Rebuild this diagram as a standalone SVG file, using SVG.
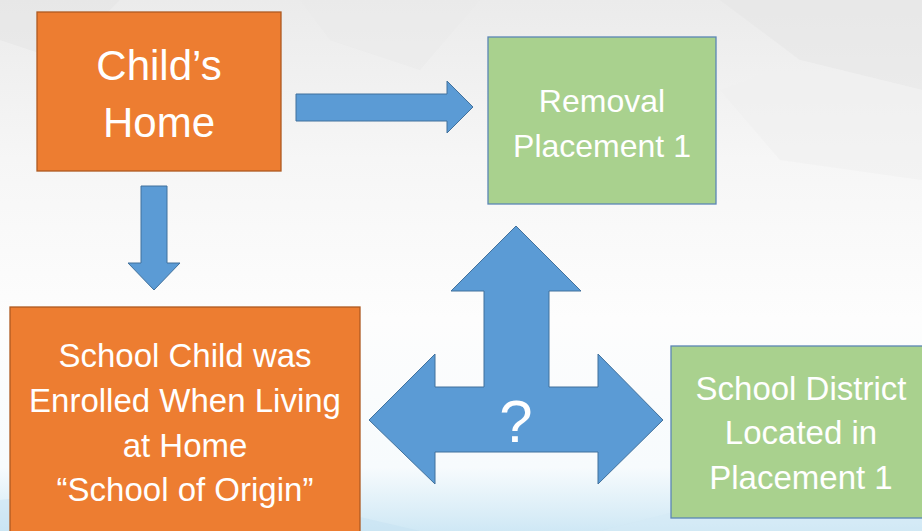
<svg xmlns="http://www.w3.org/2000/svg" width="922" height="531" viewBox="0 0 922 531">
  <defs>
    <linearGradient id="bg" x1="0" y1="0" x2="0" y2="1">
      <stop offset="0" stop-color="#ebebeb"/>
      <stop offset="0.3" stop-color="#f6f6f6"/>
      <stop offset="0.6" stop-color="#fdfdfd"/>
      <stop offset="0.88" stop-color="#f7fbfd"/>
      <stop offset="1" stop-color="#cfe8f5"/>
    </linearGradient>
    <style>
      .orange { fill: #ED7D31; stroke: #AE5A21; stroke-width: 1.3; }
      .green { fill: #A9D18E; stroke: #5B86B5; stroke-width: 1.3; }
      .arrow { fill: #5B9BD5; stroke: #41719C; stroke-width: 1; }
      .lbl { font-family: "Liberation Sans", Arial, sans-serif; fill: #ffffff; text-anchor: middle; }
    </style>
  </defs>
  <rect x="0" y="0" width="922" height="531" fill="url(#bg)"/>
  <g opacity="0.5">
    <polygon points="0,0 120,0 60,60 0,40" fill="#e4e4e4"/>
    <polygon points="300,0 480,0 420,70 330,40" fill="#e9e9e9"/>
    <polygon points="720,0 922,0 922,90 800,60" fill="#e6e6e6"/>
    <polygon points="720,90 800,60 922,90 922,180 780,160" fill="#f0f0f0"/>
    <polygon points="0,500 200,480 420,531 0,531" fill="#c6e2f2"/>
    <polygon points="600,531 760,490 922,510 922,531" fill="#d3eaf6"/>
  </g>

  <g id="connectors">
    <polygon id="arrow-right" class="arrow" points="296,94 447,94 447,81 473,107 447,133 447,121 296,121"/>
    <polygon id="arrow-down" class="arrow" points="141,186 167,186 167,263 180,263 154,290 128,263 141,263"/>
    <polygon id="arrow-triple" class="arrow" points="516,226 581,291 549,291 549,387 598,387 598,354 663,420 598,484 598,452 435,452 435,484 369,420 435,354 435,387 484,387 484,291 451,291"/>
  </g>

  <g id="node-childs-home">
    <rect class="orange" x="37" y="12" width="244" height="159"/>
    <text class="lbl" x="159" y="80" font-size="42">Child’s</text>
    <text class="lbl" x="159" y="137" font-size="42">Home</text>
  </g>

  <g id="node-removal">
    <rect class="green" x="488" y="37" width="228" height="167"/>
    <text class="lbl" x="602" y="112" font-size="32">Removal</text>
    <text class="lbl" x="602" y="157" font-size="32">Placement 1</text>
  </g>

  <g id="node-school-origin">
    <rect class="orange" x="10" y="307" width="350" height="230"/>
    <text class="lbl" x="185" y="367" font-size="33">School Child was</text>
    <text class="lbl" x="185" y="412" font-size="33">Enrolled When Living</text>
    <text class="lbl" x="185" y="457" font-size="33">at Home</text>
    <text class="lbl" x="185" y="501" font-size="33">“School of Origin”</text>
  </g>

  <g id="node-school-district">
    <rect class="green" x="671" y="346" width="260" height="172"/>
    <text class="lbl" x="801" y="400" font-size="33">School District</text>
    <text class="lbl" x="801" y="444" font-size="33">Located in</text>
    <text class="lbl" x="801" y="489" font-size="33">Placement 1</text>
  </g>

  <g id="label-question">
    <text class="lbl" x="516" y="442" font-size="60">?</text>
  </g>
</svg>
